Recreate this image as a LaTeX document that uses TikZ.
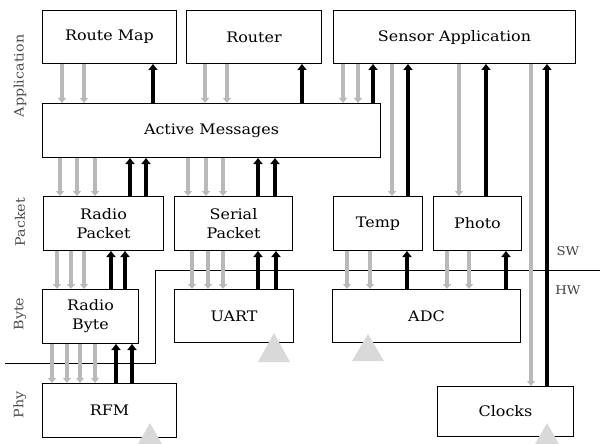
\documentclass[tikz,border=0pt]{standalone}
\usepackage{fontspec}
\setmainfont{DejaVu Serif}[FakeStretch=1.1]
\usetikzlibrary{arrows.meta}
\begin{document}
\begin{tikzpicture}[x=1pt,y=-1pt,
  box/.style={draw, line width=1pt, anchor=north west, inner sep=0pt, align=center, font=\fontsize{14.5}{19}\selectfont},
  garrow/.style={draw=gray!55, line width=3.2pt, -{Triangle[length=5pt,width=8pt]}},
  barrow/.style={draw=black, line width=4pt, -{Triangle[length=6pt,width=9pt]}},
  lay/.style={rotate=90, text=black!70, font=\fontsize{13}{15}\selectfont},
  swhw/.style={text=black!75, font=\fontsize{12}{14}\selectfont},
  hwtri/.style={fill=gray!30}
]
\useasboundingbox (0,0) rectangle (600,444);
\clip (0,0) rectangle (600,444);
% SW/HW boundary
\draw[line width=0.8pt] (5,363) -- (155,363) -- (155,270) -- (600,270);
% boxes
\node[box, minimum width=134pt, minimum height=53pt] (rm) at (42,10) {Route Map};
\node[box, minimum width=135pt, minimum height=53pt] (rt) at (186,10) {Router};
\node[box, minimum width=242pt, minimum height=53pt] (sa) at (333,10) {Sensor Application};
\node[box, minimum width=338pt, minimum height=54pt] (am) at (42,103) {Active Messages};
\node[box, minimum width=120pt, minimum height=54pt] (rp) at (43,196) {Radio\\Packet};
\node[box, minimum width=118pt, minimum height=54pt] (sp) at (174,196) {Serial\\Packet};
\node[box, minimum width=89pt, minimum height=54pt] (tp) at (333,196) {Temp};
\node[box, minimum width=88pt, minimum height=54pt] (ph) at (433,196) {Photo};
\node[box, minimum width=96pt, minimum height=54pt] (rb) at (42,289) {Radio\\Byte};
\node[box, minimum width=119pt, minimum height=53pt] (ua) at (174,289) {UART};
\node[box, minimum width=188pt, minimum height=53pt] (adc) at (332,289) {ADC};
\node[box, minimum width=134pt, minimum height=54pt] (rfm) at (42,383) {RFM};
\node[box, minimum width=136pt, minimum height=50pt] (clk) at (437,386) {Clocks};
% layer labels
\node[lay] (lapp) at (20,76) {Application};
\node[lay] (lpkt) at (20,222) {Packet};
\node[lay] (lbyte) at (20,314) {Byte};
\node[lay] (lphy) at (20,405) {Phy};
\node[swhw] (lsw) at (568,251) {SW};
\node[swhw] (lhw) at (568,290) {HW};
% Route Map <-> AM
\foreach \x in {62,84} \draw[garrow] (\x,0 |- rm.south) -- (\x,0 |- am.north);
\draw[barrow] (153,0 |- am.north) -- (153,0 |- rm.south);
% Router <-> AM
\foreach \x in {205,227} \draw[garrow] (\x,0 |- rt.south) -- (\x,0 |- am.north);
\draw[barrow] (302,0 |- am.north) -- (302,0 |- rt.south);
% Sensor App <-> AM
\foreach \x in {343,358} \draw[garrow] (\x,0 |- sa.south) -- (\x,0 |- am.north);
\draw[barrow] (373,0 |- am.north) -- (373,0 |- sa.south);
% Sensor App <-> Temp, Photo, Clocks
\draw[garrow] (392,0 |- sa.south) -- (392,0 |- tp.north);
\draw[barrow] (408,0 |- tp.north) -- (408,0 |- sa.south);
\draw[garrow] (459,0 |- sa.south) -- (459,0 |- ph.north);
\draw[barrow] (486,0 |- ph.north) -- (486,0 |- sa.south);
\draw[garrow] (531,0 |- sa.south) -- (531,0 |- clk.north);
\draw[barrow] (547,0 |- clk.north) -- (547,0 |- sa.south);
% AM <-> Radio Packet
\foreach \x in {60,77,95} \draw[garrow] (\x,0 |- am.south) -- (\x,0 |- rp.north);
\foreach \x in {130,146} \draw[barrow] (\x,0 |- rp.north) -- (\x,0 |- am.south);
% AM <-> Serial Packet
\foreach \x in {188,206,223} \draw[garrow] (\x,0 |- am.south) -- (\x,0 |- sp.north);
\foreach \x in {258,275} \draw[barrow] (\x,0 |- sp.north) -- (\x,0 |- am.south);
% Radio Packet <-> Radio Byte
\foreach \x in {57,71,84} \draw[garrow] (\x,0 |- rp.south) -- (\x,0 |- rb.north);
\foreach \x in {111,125} \draw[barrow] (\x,0 |- rb.north) -- (\x,0 |- rp.south);
% Serial Packet <-> UART
\foreach \x in {192,208,223} \draw[garrow] (\x,0 |- sp.south) -- (\x,0 |- ua.north);
\foreach \x in {258,276} \draw[barrow] (\x,0 |- ua.north) -- (\x,0 |- sp.south);
% Temp <-> ADC
\foreach \x in {347,370} \draw[garrow] (\x,0 |- tp.south) -- (\x,0 |- adc.north);
\draw[barrow] (407,0 |- adc.north) -- (407,0 |- tp.south);
% Photo <-> ADC
\foreach \x in {447,469} \draw[garrow] (\x,0 |- ph.south) -- (\x,0 |- adc.north);
\draw[barrow] (506,0 |- adc.north) -- (506,0 |- ph.south);
% Radio Byte <-> RFM
\foreach \x in {52,67,80,95} \draw[garrow] (\x,0 |- rb.south) -- (\x,0 |- rfm.north);
\foreach \x in {116,132} \draw[barrow] (\x,0 |- rfm.north) -- (\x,0 |- rb.south);
% hardware interrupt triangles
\fill[hwtri] (258,362) -- (274,333) -- (290,362) -- cycle;
\fill[hwtri] (352,361) -- (368,334) -- (384,361) -- cycle;
\fill[hwtri] (134,451) -- (150,423) -- (166,451) -- cycle;
\fill[hwtri] (531,451) -- (547,423) -- (563,451) -- cycle;
\end{tikzpicture}
\end{document}
